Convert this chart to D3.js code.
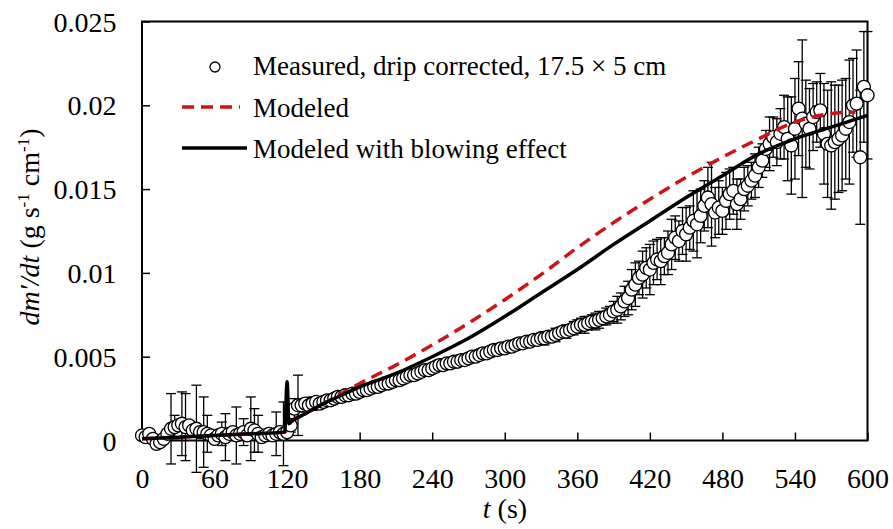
<!DOCTYPE html>
<html>
<head>
<meta charset="utf-8">
<script src="https://cdn.jsdelivr.net/npm/d3@7.9.0/dist/d3.min.js"></script>
<style>
  body { margin: 0; background: #fff; }
  svg text { font-family: "Liberation Serif", "Times New Roman", serif; fill: #000; }
</style>
</head>
<body>
<svg id="chart" width="893" height="529"></svg>
<script>
// measured points, one every 3 s from 0 to 600 s
const measuredTime = d3.range(0, 601, 3);
const measured = [
  0.0003, 0.0002, 0.0004, 0.0001, -0.0002, -0.0001, 0.0001, 0.0004, 0.0007, 0.0008,
  0.0009, 0.0010, 0.0008, 0.0009, 0.0006, 0.0007, 0.0005, 0.0005, 0.0004, 0.0003,
  0.0001, 0.0003, 0.0004, 0.0002, 0.0004, 0.0005, 0.0003, 0.0004, 0.0005, 0.0003,
  0.0007, 0.0006, 0.0004, 0.0002, 0.0003, 0.0004, 0.0003, 0.0004, 0.0005, 0.0004,
  0.0005, 0.0009, 0.0019, 0.0021, 0.0021, 0.0022, 0.0021, 0.0022, 0.0023, 0.0022,
  0.0023, 0.0024, 0.0024, 0.0025, 0.0026, 0.0026, 0.0027, 0.0027, 0.0028, 0.0028,
  0.0029, 0.0030, 0.0030, 0.0031, 0.0032, 0.0032, 0.0033, 0.0034, 0.0034, 0.0035,
  0.0036, 0.0036, 0.0037, 0.0038, 0.0039, 0.0039, 0.0040, 0.0041, 0.0042, 0.0042,
  0.0043, 0.0044, 0.0045, 0.0045, 0.0046, 0.0046, 0.0047, 0.0047, 0.0048, 0.0048,
  0.0049, 0.0050, 0.0050, 0.0051, 0.0052, 0.0052, 0.0053, 0.0054, 0.0054, 0.0055,
  0.0055, 0.0056, 0.0056, 0.0057, 0.0058, 0.0058, 0.0059, 0.0059, 0.0060, 0.0060,
  0.0061, 0.0061, 0.0062, 0.0062, 0.0063, 0.0064, 0.0065, 0.0065, 0.0066, 0.0067,
  0.0068, 0.0069, 0.0069, 0.0070, 0.0071, 0.0071, 0.0072, 0.0073, 0.0074, 0.0075,
  0.0077, 0.0078, 0.0080, 0.0083, 0.0085, 0.0090, 0.0093, 0.0097, 0.0099, 0.0103,
  0.0102, 0.0106, 0.0108, 0.0107, 0.0110, 0.0112, 0.0117, 0.0121, 0.0119, 0.0125,
  0.0123, 0.0127, 0.0131, 0.0129, 0.0134, 0.0140, 0.0145, 0.0141, 0.0136, 0.0139,
  0.0137, 0.0143, 0.0147, 0.0149, 0.0141, 0.0144, 0.0150, 0.0152, 0.0155, 0.0158,
  0.0163, 0.0167, 0.0174, 0.0177, 0.0181, 0.0178, 0.0183, 0.0187, 0.0180, 0.0176,
  0.0186, 0.0198, 0.0192, 0.0189, 0.0186, 0.0193, 0.0196, 0.0197, 0.0183, 0.0177,
  0.0176, 0.0178, 0.0180, 0.0182, 0.0186, 0.0190, 0.0200, 0.0201, 0.0169, 0.0211,
  0.0206
];
const measuredErr = [
  0, 0, 0, 0, 0, 0, 0, 0, 0.0021, 0.0007,
  0, 0.0019, 0.0020, 0, 0, 0.0026, 0, 0.0021, 0.0011, 0,
  0, 0, 0.0007, 0.0014, 0, 0, 0.0017, 0, 0.0008, 0,
  0.0019, 0.0013, 0.0011, 0, 0, 0, 0, 0.0013, 0, 0.0019,
  0, 0.0004, 0.0006, 0.0018, 0.0004, 0.0003, 0.0003, 0.0004, 0.0003, 0.0003,
  0.0003, 0.0002, 0.0003, 0.0002, 0.0003, 0.0003, 0.0002, 0.0003, 0.0002, 0.0003,
  0.0003, 0.0002, 0.0003, 0.0003, 0.0002, 0.0003, 0.0003, 0.0002, 0.0003, 0.0003,
  0.0003, 0.0002, 0.0003, 0.0003, 0.0002, 0.0003, 0.0003, 0.0002, 0.0003, 0.0003,
  0.0003, 0.0002, 0.0003, 0.0003, 0.0002, 0.0003, 0.0003, 0.0002, 0.0003, 0.0003,
  0.0003, 0.0003, 0.0002, 0.0003, 0.0003, 0.0002, 0.0003, 0.0003, 0.0003, 0.0003,
  0.0003, 0.0003, 0.0002, 0.0003, 0.0003, 0.0003, 0.0003, 0.0002, 0.0003, 0.0003,
  0.0003, 0.0004, 0.0003, 0.0003, 0.0004, 0.0003, 0.0003, 0.0004, 0.0003, 0.0004,
  0.0004, 0.0004, 0.0005, 0.0004, 0.0004, 0.0005, 0.0005, 0.0004, 0.0005, 0.0005,
  0.0006, 0.0008, 0.0008, 0.0009, 0.0010, 0.0012, 0.0013, 0.0010, 0.0014, 0.0012,
  0.0015, 0.0013, 0.0012, 0.0014, 0.0011, 0.0013, 0.0015, 0.0013, 0.0012, 0.0014,
  0.0016, 0.0013, 0.0018, 0.0020, 0.0016, 0.0015, 0.0018, 0.0025, 0.0015, 0.0016,
  0.0014, 0.0017, 0.0015, 0.0014, 0.0015, 0.0012, 0.0013, 0.0012, 0.0011, 0.0013,
  0.0012, 0.0010, 0.0011, 0.0016, 0.0012, 0.0014, 0.0015, 0.0019, 0.0025, 0.0029,
  0.0030, 0.0028, 0.0047, 0.0026, 0.0024, 0.0020, 0.0018, 0.0022, 0.0030, 0.0032,
  0.0038, 0.0034, 0.0032, 0.0033, 0.0030, 0.0037, 0.0028, 0.0032, 0.0040, 0.0033,
  0.0038
];

// modeled curve (red dashed)
const modeledTime = [0, 30, 60, 90, 118, 123, 135, 150, 180, 210, 240, 270, 300, 330, 360, 390, 420, 450, 480, 510, 540, 570, 590];
const modeled = [0.0001, 0.0002, 0.0003, 0.0004, 0.0005, 0.0011, 0.0016, 0.0022, 0.0034, 0.0045, 0.0057, 0.0070, 0.0084, 0.0099, 0.0115, 0.0130, 0.0144, 0.0157, 0.0169, 0.0180, 0.0190, 0.0195, 0.0196];

// modeled with blowing effect (black)
const blowingTime = [0, 30, 60, 90, 118, 120, 121.5, 123, 135, 150, 165, 180, 210, 240, 270, 300, 330, 360, 390, 420, 450, 480, 510, 540, 570, 600];
const blowing = [0.0001, 0.0002, 0.0003, 0.0004, 0.0005, 0.0035, 0.0010, 0.0011, 0.0016, 0.0022, 0.0027, 0.0032, 0.0040, 0.0050, 0.0061, 0.0074, 0.0088, 0.0102, 0.0117, 0.0131, 0.0145, 0.0158, 0.0171, 0.0180, 0.0187, 0.0194];

const xTicks = [0, 60, 120, 180, 240, 300, 360, 420, 480, 540, 600];
const yTicks = [0, 0.005, 0.01, 0.015, 0.02, 0.025];
const legendLabels = ["Measured, drip corrected, 17.5 \u00d7 5 cm", "Modeled", "Modeled with blowing effect"];

const red = "#cc1417";
const svg = d3.select("#chart");

const x = d3.scaleLinear().domain([0, 600]).range([142, 867.5]);
const y = d3.scaleLinear().domain([0, 0.025]).range([440.5, 21.5]);

// axes with inward ticks
const xAxis = svg.append("g")
  .attr("transform", `translate(0,${y(0)})`)
  .call(d3.axisBottom(x).tickValues(xTicks).tickSizeInner(-8).tickSizeOuter(0));
xAxis.select(".domain").remove();
xAxis.selectAll(".tick line").attr("stroke", "#000").attr("stroke-width", 1.5);
xAxis.selectAll(".tick text")
  .attr("y", 47.5).attr("dy", 0)
  .style("font-size", "28px").style("font-family", '"Liberation Serif", serif');

const yAxis = svg.append("g")
  .attr("transform", `translate(${x(0)},0)`)
  .call(d3.axisLeft(y).tickValues(yTicks).tickSizeInner(-8).tickSizeOuter(0)
    .tickFormat(d => d === 0 ? "0" : String(+d.toFixed(3))));
yAxis.select(".domain").remove();
yAxis.selectAll(".tick line").attr("stroke", "#000").attr("stroke-width", 1.5);
yAxis.selectAll(".tick text")
  .attr("x", -25.5).attr("dy", "0.34em")
  .style("font-size", "28px").style("font-family", '"Liberation Serif", serif');

// plot frame
svg.append("rect")
  .attr("x", x(0)).attr("y", y(0.025))
  .attr("width", x(600) - x(0)).attr("height", y(0) - y(0.025))
  .attr("fill", "none").attr("stroke", "#000").attr("stroke-width", 2);

// measured data
const pts = measuredTime.map((t, i) => ({ t, v: measured[i], e: measuredErr[i] }));

const bars = svg.append("g").attr("stroke", "#000").attr("stroke-width", 1.3);
pts.filter(d => d.e > 0).forEach(d => {
  const cx = x(d.t), top = y(d.v + d.e), bot = y(d.v - d.e);
  bars.append("line").attr("x1", cx).attr("x2", cx).attr("y1", top).attr("y2", bot);
  bars.append("line").attr("x1", cx - 5).attr("x2", cx + 5).attr("y1", top).attr("y2", top);
  bars.append("line").attr("x1", cx - 5).attr("x2", cx + 5).attr("y1", bot).attr("y2", bot);
});

svg.append("g").selectAll("circle")
  .data(pts)
  .join("circle")
  .attr("cx", d => x(d.t))
  .attr("cy", d => y(d.v))
  .attr("r", 6.5)
  .attr("fill", "#fff")
  .attr("stroke", "#000")
  .attr("stroke-width", 1.3);

// model lines
const line = d3.line().x(d => x(d[0])).y(d => y(d[1])).curve(d3.curveMonotoneX);

svg.append("path")
  .attr("d", line(modeledTime.map((t, i) => [t, modeled[i]])))
  .attr("fill", "none").attr("stroke", red)
  .attr("stroke-width", 3.5).attr("stroke-dasharray", "12,7");

svg.append("path")
  .attr("d", line(blowingTime.map((t, i) => [t, blowing[i]])))
  .attr("fill", "none").attr("stroke", "#000")
  .attr("stroke-width", 3.5).attr("stroke-linejoin", "round");

// legend
const lg = svg.append("g");
lg.append("circle").attr("cx", 215).attr("cy", 67).attr("r", 5)
  .attr("fill", "#fff").attr("stroke", "#000").attr("stroke-width", 1.3);
lg.append("line").attr("x1", 182).attr("x2", 240).attr("y1", 107).attr("y2", 107)
  .attr("stroke", red).attr("stroke-width", 3.5).attr("stroke-dasharray", "12,7");
lg.append("line").attr("x1", 182).attr("x2", 247).attr("y1", 148).attr("y2", 148)
  .attr("stroke", "#000").attr("stroke-width", 3.5);
lg.selectAll("text")
  .data(legendLabels)
  .join("text")
  .attr("x", 253)
  .attr("y", (d, i) => 75 + i * 41.5)
  .style("font-size", "27px")
  .text(d => d);

// axis titles
const xt = svg.append("text")
  .attr("x", 505).attr("y", 518)
  .attr("text-anchor", "middle")
  .style("font-size", "28px");
xt.append("tspan").style("font-style", "italic").text("t");
xt.append("tspan").text(" (s)");

const yt = svg.append("text")
  .attr("transform", "translate(39,227) rotate(-90)")
  .attr("text-anchor", "middle")
  .style("font-size", "28px");
yt.append("tspan").style("font-style", "italic").text("dm\u2032/dt");
yt.append("tspan").text(" (g s");
yt.append("tspan").attr("dy", -10).style("font-size", "17px").text("-1");
yt.append("tspan").attr("dy", 10).text(" cm");
yt.append("tspan").attr("dy", -10).style("font-size", "17px").text("-1");
yt.append("tspan").attr("dy", 10).text(")");
</script>
</body>
</html>
